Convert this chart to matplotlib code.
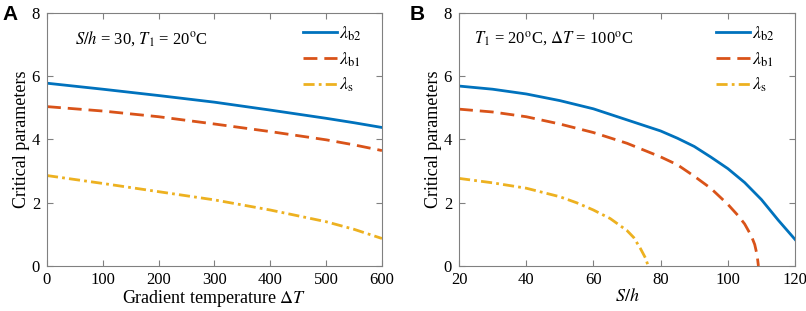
import numpy as np
import matplotlib
matplotlib.use("Agg")
import matplotlib.pyplot as plt

plt.rcParams['font.family'] = ['Liberation Serif', 'DejaVu Serif']
plt.rcParams['mathtext.fontset'] = 'stix'

# panel A: critical parameters vs gradient temperature
dT = [0, 100, 200, 300, 400, 500, 550, 600]
a_b2 = [5.78, 5.59, 5.39, 5.18, 4.93, 4.67, 4.53, 4.38]
a_b1 = [5.04, 4.90, 4.72, 4.49, 4.25, 3.99, 3.83, 3.65]
a_s = [2.86, 2.61, 2.35, 2.09, 1.77, 1.40, 1.16, 0.87]

# panel B: critical parameters vs S/h
sh_b2 = [20, 30, 40, 50, 60, 70, 80, 85, 90, 95, 100, 105, 110, 115, 120]
b_b2 = [5.69, 5.59, 5.44, 5.23, 4.97, 4.62, 4.27, 4.04, 3.78, 3.44, 3.08, 2.64, 2.10, 1.45, 0.84]
sh_b1 = [20, 30, 40, 50, 60, 70, 80, 85, 90, 95, 100, 103, 105, 107, 108, 108.7, 109.1]
b_b1 = [4.96, 4.87, 4.72, 4.49, 4.22, 3.88, 3.45, 3.20, 2.84, 2.45, 1.95, 1.60, 1.33, 0.95, 0.68, 0.35, 0.0]
sh_s = [20, 30, 40, 50, 55, 60, 65, 70, 72, 74, 75.5, 76.3]
b_s = [2.77, 2.63, 2.46, 2.19, 2.00, 1.77, 1.50, 1.12, 0.90, 0.55, 0.25, 0.0]

c_b2 = '#0072BD'
c_b1 = '#D95319'
c_s = '#EDB120'
lw = 2.0

fig = plt.figure(figsize=(8.06, 3.11), dpi=100)
axA = fig.add_axes([0.0583, 0.1447, 0.4156, 0.8135])
axB = fig.add_axes([0.5695, 0.1447, 0.4169, 0.8135])


def style(ax):
    for sp in ax.spines.values():
        sp.set_color('#808080')
        sp.set_linewidth(0.8)
    ax.tick_params(direction='in', top=True, right=True, length=4,
                   color='#808080', labelsize=12)
    ax.tick_params(axis='x', pad=4)
    ax.tick_params(axis='y', pad=5)
    ax.set_ylim(0, 8)
    ax.set_yticks([0, 2, 4, 6, 8])
    ax.set_ylabel('Critical parameters', fontsize=13, labelpad=1)


def draw(ax, xs, ys):
    ax.plot(xs[0], ys[0], color=c_b2, lw=lw, label=r'$\lambda_{\rm b2}$')
    ax.plot(xs[1], ys[1], color=c_b1, lw=lw, dashes=(5, 2.5), label=r'$\lambda_{\rm b1}$')
    ax.plot(xs[2], ys[2], color=c_s, lw=lw, dashes=(4, 1.5, 1, 1.5), label=r'$\lambda_{\rm s}$')
    ax.legend(loc='upper right', bbox_to_anchor=(0.975, 1.0), frameon=False,
              fontsize=13, handlelength=1.9, handletextpad=0.1,
              labelspacing=0.4, borderaxespad=0.25)


draw(axA, [dT, dT, dT], [a_b2, a_b1, a_s])
style(axA)
axA.set_xlim(0, 600)
axA.set_xticks(range(0, 601, 100))
axA.set_xlabel(r'Gradient temperature $\Delta T$', fontsize=13, labelpad=0)
axA.text(0.084, 0.9, r'$S/h$ = 30, $T_1$ = 20$^{\rm o}$C', transform=axA.transAxes,
         fontsize=12, va='center')

draw(axB, [sh_b2, sh_b1, sh_s], [b_b2, b_b1, b_s])
style(axB)
axB.set_xlim(20, 120)
axB.set_xticks(range(20, 121, 20))
axB.set_xlabel(r'$S/h$', fontsize=13, labelpad=0)
axB.text(0.045, 0.9, r'$T_1$ = 20$^{\rm o}$C, $\Delta T$ = 100$^{\rm o}$C', transform=axB.transAxes,
         fontsize=12, va='center')

fig.text(0.003, 0.985, 'A', fontsize=15, fontweight='bold', family='Liberation Sans', va='top')
fig.text(0.508, 0.985, 'B', fontsize=15, fontweight='bold', family='Liberation Sans', va='top')

fig.savefig('out.png', dpi=100)
